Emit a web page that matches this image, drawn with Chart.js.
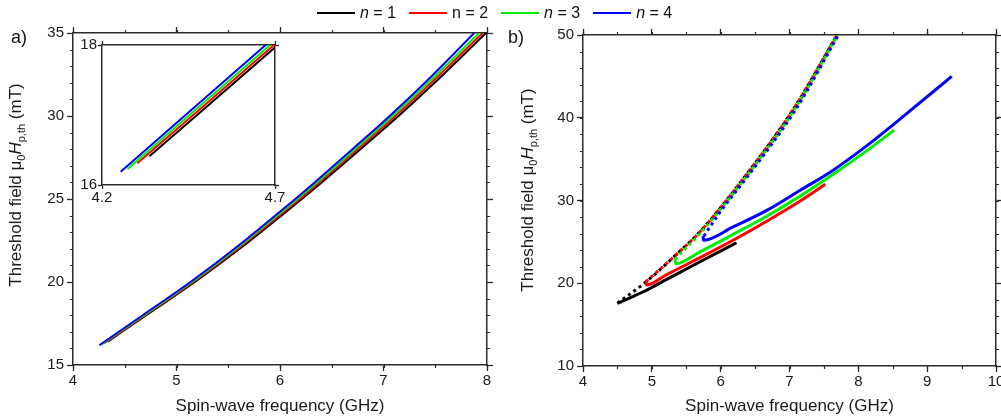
<!DOCTYPE html>
<html>
<head>
<meta charset="utf-8">
<script src="https://cdn.jsdelivr.net/npm/chart.js@4.4.0/dist/chart.umd.min.js"></script>
<style>
  body { margin: 0; background: #fff; font-family: "Liberation Sans", Arial, sans-serif; }
  #wrap { position: relative; width: 1001px; height: 419px; overflow: hidden; background: #fff; }
  canvas { position: absolute; }
  #panelA { left: 0; top: 0; }
  #panelB { left: 500px; top: 0; }
  #inset { left: 75px; top: 38px; }
  #legend { position: absolute; left: 317px; top: 4px; height: 18px; display: flex; align-items: center; font-size: 16px; color: #111; }
  .item { display: flex; align-items: center; margin-right: 13px; }
  .swatch { width: 38px; height: 2px; margin-right: 5px; }
  .tag { position: absolute; font-size: 18px; line-height: 18px; color: #111; }
</style>
</head>
<body>
<div id="wrap">
  <canvas id="panelA" width="500" height="419"></canvas>
  <canvas id="panelB" width="501" height="419"></canvas>
  <canvas id="inset" width="215" height="170"></canvas>
  <div id="legend"></div>
  <div class="tag" style="left:11px;top:28px">a)</div>
  <div class="tag" style="left:508px;top:28px">b)</div>
</div>
<script>
const FONT = '"Liberation Sans", Arial, sans-serif';
const AXIS = '#2b2b2b';
const TEXT = '#1a1a1a';

const seriesNames = ['n = 1', 'n = 2', 'n = 3', 'n = 4'];
const seriesItalic = [true, false, true, true];
const seriesColors = ['#000000', '#ff0000', '#00ee00', '#0000ff'];

// panel a) spin-wave frequency (GHz) vs threshold field (mT)
const aFreq1 = [4.337, 4.708, 5.177, 5.61, 6.013, 6.403, 6.777, 7.145, 7.493, 7.99];
const aField1 = [16.41, 18, 20, 22, 24, 26, 28, 30, 32, 35];
const aFreq2 = [4.302, 4.697, 5.163, 5.593, 5.994, 6.38, 6.75, 7.115, 7.46, 7.958];
const aField2 = [16.31, 18, 20, 22, 24, 26, 28, 30, 32, 35];
const aFreq3 = [4.274, 4.686, 5.15, 5.577, 5.974, 6.357, 6.725, 7.087, 7.43, 7.923];
const aField3 = [16.23, 18, 20, 22, 24, 26, 28, 30, 32, 35];
const aFreq4 = [4.254, 4.673, 5.135, 5.56, 5.955, 6.335, 6.70, 7.06, 7.40, 7.877];
const aField4 = [16.19, 18, 20, 22, 24, 26, 28, 30, 32, 35];

// panel b) lower branch (solid)
const bFreq1 = [4.50, 4.634, 4.876, 5.216, 5.70, 6.23];
const bField1 = [17.57, 18.05, 18.97, 20.46, 22.6, 24.89];
const bFreq2 = [4.915, 4.925, 5.216, 5.70, 6.18, 6.67, 7.15, 7.52];
const bField2 = [20.2, 19.8, 21.05, 23.1, 25.2, 27.5, 29.9, 31.95];
const bFreq3 = [5.335, 5.35, 5.70, 6.18, 6.67, 7.15, 7.64, 8.12, 8.52];
const bField3 = [22.9, 22.35, 23.8, 25.9, 28.1, 30.5, 33.2, 36.0, 38.5];
const bFreq4 = [5.745, 5.75, 6.18, 6.67, 7.15, 7.64, 8.12, 8.60, 9.357];
const bField4 = [25.7, 25.2, 26.8, 28.8, 31.2, 33.7, 36.6, 39.8, 45.0];

// panel b) upper branch (dotted)
const dFreq1 = [4.50, 4.90, 5.36, 5.72, 6.38, 7.07, 7.69];
const dField1 = [17.6, 20.06, 23.5, 26.4, 33.2, 41.2, 50.0];
const dFreq2 = [4.915, 5.36, 5.72, 6.38, 7.07, 7.69];
const dField2 = [20.2, 23.5, 26.4, 33.2, 41.2, 50.0];
const dFreq3 = [5.335, 5.72, 6.39, 7.08, 7.70];
const dField3 = [22.9, 26.2, 33.1, 41.1, 50.0];
const dFreq4 = [5.755, 6.0, 6.40, 7.09, 7.71];
const dField4 = [25.7, 28.7, 33.0, 41.0, 50.0];

function pts(xs, ys) {
  return xs.map((x, i) => ({ x: x, y: ys[i] }));
}

function lineSets(pairs, width, dash) {
  return pairs.map((p, i) => ({
    label: seriesNames[i],
    data: pts(p[0], p[1]),
    borderColor: seriesColors[i],
    backgroundColor: seriesColors[i],
    borderWidth: width,
    borderDash: dash || [],
    borderCapStyle: 'butt',
    pointRadius: 0,
    cubicInterpolationMode: 'monotone',
    fill: false,
    order: 4 - i
  }));
}

// legend above both panels
const legend = document.getElementById('legend');
seriesNames.forEach((name, i) => {
  const item = document.createElement('div');
  item.className = 'item';
  const sw = document.createElement('div');
  sw.className = 'swatch';
  sw.style.background = seriesColors[i];
  const txt = document.createElement('span');
  if (seriesItalic[i]) {
    txt.innerHTML = '<i>n</i>' + name.substring(1);
  } else {
    txt.textContent = name;
  }
  item.appendChild(sw);
  item.appendChild(txt);
  legend.appendChild(item);
});

// short minor ticks on all four sides of the frame
const minorTicks = {
  id: 'minorTicks',
  afterDraw(chart, args, o) {
    if (!o || !o.x) return;
    const ctx = chart.ctx;
    const a = chart.chartArea;
    const sx = chart.scales.x, sy = chart.scales.y;
    ctx.save();
    ctx.strokeStyle = AXIS;
    ctx.lineWidth = 1.2;
    ctx.beginPath();
    for (let v = sx.min; v <= sx.max + 1e-9; v += o.x) {
      const p = Math.round(sx.getPixelForValue(v)) + 0.5;
      ctx.moveTo(p, a.bottom); ctx.lineTo(p, a.bottom + o.len);
      ctx.moveTo(p, a.top); ctx.lineTo(p, a.top - o.len);
    }
    for (let v = sy.min; v <= sy.max + 1e-9; v += o.y) {
      const p = Math.round(sy.getPixelForValue(v)) + 0.5;
      ctx.moveTo(a.left, p); ctx.lineTo(a.left - o.len, p);
      ctx.moveTo(a.right, p); ctx.lineTo(a.right + o.len, p);
    }
    ctx.stroke();
    ctx.restore();
  }
};

// rotated y title with subscripts
const yTitle = {
  id: 'yTitle',
  afterDraw(chart, args, o) {
    if (!o || !o.x) return;
    const ctx = chart.ctx;
    const parts = [
      { t: 'Threshold field \u03bc', f: '17px ' + FONT, dy: 0 },
      { t: '0', f: '11px ' + FONT, dy: 4 },
      { t: 'H', f: 'italic 17px ' + FONT, dy: 0 },
      { t: 'p,th', f: '11px ' + FONT, dy: 4 },
      { t: ' (mT)', f: '17px ' + FONT, dy: 0 }
    ];
    let w = 0;
    parts.forEach(p => { ctx.font = p.f; p.w = ctx.measureText(p.t).width; w += p.w; });
    ctx.save();
    ctx.translate(o.x, o.y);
    ctx.rotate(-Math.PI / 2);
    ctx.fillStyle = TEXT;
    ctx.textBaseline = 'alphabetic';
    let cx = -w / 2;
    parts.forEach(p => {
      ctx.font = p.f;
      ctx.fillText(p.t, cx, 6 + p.dy);
      cx += p.w;
    });
    ctx.restore();
  }
};

// frame: labelled bottom/left axes plus unlabelled top/right axes
function frameScales(xr, yr, sz, tick, xTitle) {
  const grid = { drawOnChartArea: false, drawTicks: true, tickLength: tick, tickColor: AXIS, tickWidth: 1.3 };
  const border = { display: true, color: AXIS, width: 1.5 };
  const font = { family: FONT, size: 15 };
  const noPadX = s => { s.paddingLeft = 0; s.paddingRight = 0; };
  const noPadY = s => { s.paddingTop = 0; s.paddingBottom = 0; };
  return {
    x: {
      type: 'linear', position: 'bottom', min: xr[0], max: xr[1],
      grid: grid, border: border,
      ticks: { stepSize: xr[2], autoSkip: false, maxRotation: 0, color: TEXT, font: font, padding: sz.xpad },
      title: { display: !!xTitle, text: xTitle || '', color: TEXT, font: { family: FONT, size: 17 }, padding: { top: 0, bottom: 2 } },
      afterFit: s => { s.height = sz.bottom; noPadX(s); }
    },
    x2: {
      type: 'linear', position: 'top', min: xr[0], max: xr[1],
      grid: grid, border: border,
      ticks: { stepSize: xr[2], display: false },
      afterFit: s => { s.height = sz.top; noPadX(s); }
    },
    y: {
      type: 'linear', position: 'left', min: yr[0], max: yr[1],
      grid: grid, border: border,
      ticks: { stepSize: yr[2], autoSkip: false, color: TEXT, font: font, padding: sz.ypad },
      afterFit: s => { s.width = sz.left; noPadY(s); }
    },
    y2: {
      type: 'linear', position: 'right', min: yr[0], max: yr[1],
      grid: grid, border: border,
      ticks: { stepSize: yr[2], display: false },
      afterFit: s => { s.width = sz.right; noPadY(s); }
    }
  };
}

const aPairs = [[aFreq1, aField1], [aFreq2, aField2], [aFreq3, aField3], [aFreq4, aField4]];
const bPairs = [[bFreq1, bField1], [bFreq2, bField2], [bFreq3, bField3], [bFreq4, bField4]];
const dPairs = [[dFreq1, dField1], [dFreq2, dField2], [dFreq3, dField3], [dFreq4, dField4]];

const common = {
  responsive: false,
  animation: false,
  devicePixelRatio: 1,
  layout: { padding: 0 }
};

new Chart(document.getElementById('panelA'), {
  type: 'line',
  data: { datasets: lineSets(aPairs, 2) },
  options: Object.assign({}, common, {
    scales: frameScales([4, 8, 1], [15, 35, 5], { left: 73, right: 13, top: 33, bottom: 54, xpad: 1, ypad: 3 }, 6, 'Spin-wave frequency (GHz)'),
    plugins: {
      legend: { display: false },
      tooltip: { enabled: false },
      minorTicks: { x: 0.5, y: 1, len: 3 },
      yTitle: { x: 15, y: 185 }
    }
  }),
  plugins: [minorTicks, yTitle]
});

new Chart(document.getElementById('inset'), {
  type: 'line',
  data: { datasets: lineSets(aPairs, 2) },
  options: Object.assign({}, common, {
    scales: frameScales([4.2, 4.7, 0.5], [16, 18, 2], { left: 27, right: 15, top: 7, bottom: 23, xpad: 0, ypad: 1 }, 4, ''),
    plugins: {
      legend: { display: false },
      tooltip: { enabled: false }
    }
  })
});

new Chart(document.getElementById('panelB'), {
  type: 'line',
  data: { datasets: lineSets(bPairs, 3).concat(lineSets(dPairs, 3, [3, 3.6])) },
  options: Object.assign({}, common, {
    scales: frameScales([4, 10, 1], [10, 50, 10], { left: 83, right: 5, top: 35, bottom: 53, xpad: 1, ypad: 3 }, 6, 'Spin-wave frequency (GHz)'),
    plugins: {
      legend: { display: false },
      tooltip: { enabled: false },
      minorTicks: { x: 0.5, y: 2, len: 3 },
      yTitle: { x: 27, y: 190 }
    }
  }),
  plugins: [minorTicks, yTitle]
});
</script>
</body>
</html>
